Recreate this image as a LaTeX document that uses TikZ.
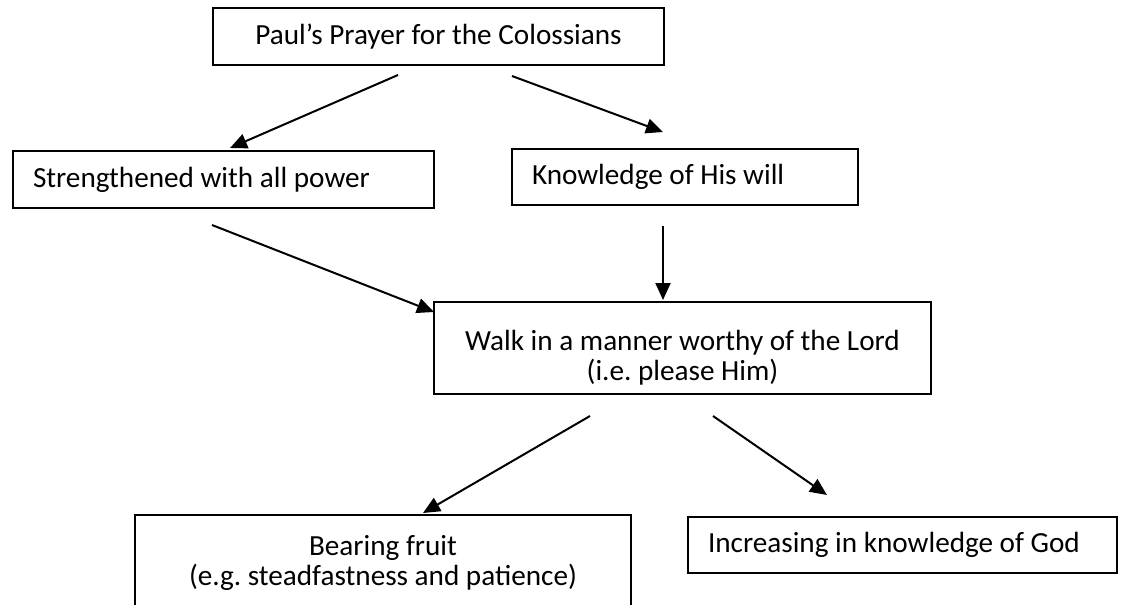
\documentclass[tikz,border=0pt]{standalone}
\usepackage{fontspec}
\setmainfont{Carlito}
\frenchspacing
\usetikzlibrary{positioning,arrows.meta}

\begin{document}
\begin{tikzpicture}[x=1pt,y=-1pt,
  box/.style={draw, line width=2pt, anchor=north west, inner sep=0pt,
    font=\fontsize{29.2}{30}\selectfont},
  leftbox/.style={box, align=flush left, inner xsep=20pt},
  midbox/.style={box, align=flush center},
  arr/.style={line width=2pt, -{Triangle[length=17pt,width=15pt]}}]
\path[use as bounding box, clip] (0,0) rectangle (1122,605);
\node[midbox, minimum width=451pt, minimum height=57pt] (prayer) at (212,7)
  {Paul’s Prayer for the Colossians};
\node[leftbox, text width=381pt, minimum height=57pt] (power) at (12,150)
  {Strengthened with all power};
\node[leftbox, text width=306pt, minimum height=56pt] (will) at (511,148)
  {Knowledge of His will};
\node[midbox, minimum width=497pt, minimum height=92pt] (walk) at (433,301)
  {\rule{0pt}{40pt}Walk in a manner worthy of the Lord\\(i.e. please Him)};
\node[midbox, minimum width=496pt, minimum height=96pt] (fruit) at (134,514)
  {Bearing fruit\\(e.g. steadfastness and patience)};
\node[leftbox, text width=389pt, minimum height=56pt] (knowgod) at (687,516)
  {Increasing in knowledge of God};
\coordinate (prayerl) at (398,75); \coordinate (powertop) at (230,148);
\coordinate (prayerr) at (512,76); \coordinate (willtop) at (663,132);
\coordinate (powerbot) at (212,225); \coordinate (walkleft) at (434,312);
\coordinate (willbot) at (663,226); \coordinate (walktop) at (663,300);
\coordinate (walkl) at (590,416); \coordinate (fruittop) at (423,513);
\coordinate (walkr) at (713,416); \coordinate (knowtop) at (827,495);
\draw[arr] (prayerl) -- (powertop);
\draw[arr] (prayerr) -- (willtop);
\draw[arr] (powerbot) -- (walkleft);
\draw[arr] (willbot) -- (walktop);
\draw[arr] (walkl) -- (fruittop);
\draw[arr] (walkr) -- (knowtop);
\end{tikzpicture}
\end{document}
